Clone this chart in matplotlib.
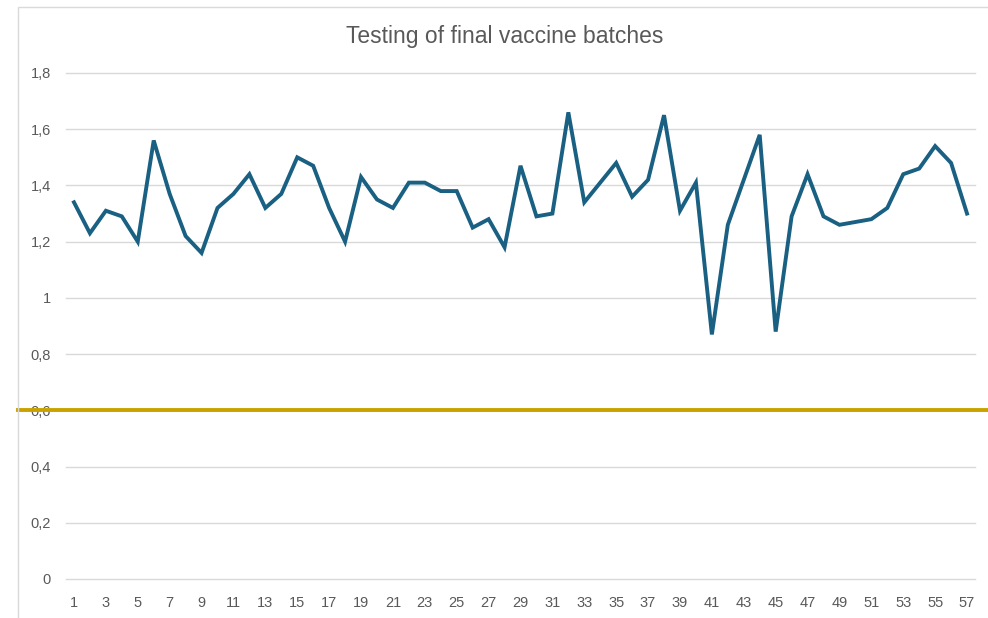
import matplotlib
matplotlib.use("Agg")
import matplotlib.pyplot as plt
from matplotlib.patches import Rectangle
from matplotlib.transforms import blended_transform_factory

# dados
lotes = list(range(1, 58))
valores = [
    1.34, 1.23, 1.31, 1.29, 1.20, 1.56, 1.37, 1.22, 1.16, 1.32,
    1.37, 1.44, 1.32, 1.37, 1.50, 1.47, 1.32, 1.20, 1.43, 1.35,
    1.32, 1.41, 1.41, 1.38, 1.38, 1.25, 1.28, 1.18, 1.47, 1.29,
    1.30, 1.66, 1.34, 1.41, 1.48, 1.36, 1.42, 1.65, 1.31, 1.41,
    0.87, 1.26, 1.42, 1.58, 0.88, 1.29, 1.44, 1.29, 1.26, 1.27,
    1.28, 1.32, 1.44, 1.46, 1.54, 1.48, 1.30,
]
limite = 0.6
y_ticks = [0, 0.2, 0.4, 0.6, 0.8, 1.0, 1.2, 1.4, 1.6, 1.8]
y_labels = ["0", "0,2", "0,4", "0,6", "0,8", "1", "1,2", "1,4", "1,6", "1,8"]
titulo = "Testing of final vaccine batches"

plt.rcParams["font.family"] = ["Liberation Sans Narrow", "Liberation Sans", "DejaVu Sans"]
cinza = "#595959"

fig = plt.figure(figsize=(9.88, 6.18), dpi=100)
ax = fig.add_axes([66 / 988, 1 - 579 / 618, (975 - 66) / 988, (579 - 73) / 618])

# borda do grafico (cortada a direita e embaixo)
fig.patches.append(Rectangle((18 / 988, -0.1), 1.2, 1 - 7 / 618 + 0.1,
                             transform=fig.transFigure, fill=False,
                             edgecolor="#D9D9D9", linewidth=1))

ax.plot(lotes, valores, color="#196082", linewidth=2.8, solid_joinstyle="miter", zorder=3)

# linha de limite atravessando toda a largura
trans = blended_transform_factory(fig.transFigure, ax.transData)
ax.plot([18 / 988, 1.0], [limite, limite], color="#C9A200", linewidth=2.8,
        transform=trans, clip_on=False, zorder=4)

ax.set_xlim(0.5, 57.5)
ax.set_ylim(0, 1.8)
ax.set_yticks(y_ticks)
ax.set_yticklabels(y_labels)
ax.set_xticks(lotes[::2])
ax.set_xticklabels([str(i) for i in lotes[::2]])

ax.grid(axis="y", color="#D9D9D9", linewidth=1)
for g in ax.get_ygridlines():
    g.set_clip_on(False)
ax.set_axisbelow(True)
for s in ax.spines.values():
    s.set_visible(False)
ax.tick_params(axis="both", length=0, colors=cinza, labelsize=10.5)
ax.tick_params(axis="y", pad=11)
ax.tick_params(axis="x", pad=12)

fig.text(505 / 988, 1 - 37 / 618, titulo, ha="center", va="center",
         fontsize=16.5, color=cinza)

plt.savefig("out.png", dpi=100)
